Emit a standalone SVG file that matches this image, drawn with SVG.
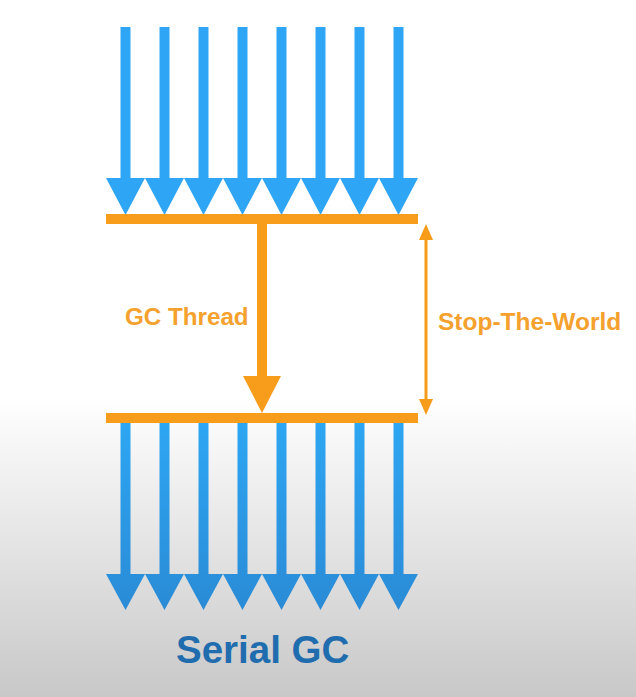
<svg xmlns="http://www.w3.org/2000/svg" xmlns:xlink="http://www.w3.org/1999/xlink" width="636" height="697" viewBox="0 0 636 697">
  <defs>
    <linearGradient id="bg" x1="0" y1="0" x2="0" y2="697" gradientUnits="userSpaceOnUse">
      <stop offset="0" stop-color="#ffffff"/>
      <stop offset="0.57" stop-color="#ffffff"/>
      <stop offset="1" stop-color="#c8c8c8"/>
    </linearGradient>
    <linearGradient id="blueBottom" x1="0" y1="423" x2="0" y2="610" gradientUnits="userSpaceOnUse">
      <stop offset="0" stop-color="#2ea6f3"/>
      <stop offset="1" stop-color="#2a8bd6"/>
    </linearGradient>
    <path id="topArrow" d="M -5 27 H 5 V 178 H 19.5 L 0 215 L -19.5 178 H -5 Z"/>
    <path id="bottomArrow" d="M -5 423 H 5 V 574 H 19.5 L 0 610 L -19.5 574 H -5 Z"/>
  </defs>
  <style>
    .blue-top { fill: #2ea6f5; }
    .blue-bottom { fill: url(#blueBottom); }
    .bar { fill: #f89c1c; }
    .orange { fill: #f89c1c; }
    .label { font-family: "Liberation Sans", Arial, sans-serif; font-weight: 700; fill: #f5a12e; }
    .title { font-family: "Liberation Sans", Arial, sans-serif; font-weight: 700; fill: #1f6dae; font-size: 38.5px; }
  </style>

  <rect x="0" y="0" width="636" height="697" fill="url(#bg)"/>

  <g id="app-threads-before">
    <use href="#topArrow" x="125.5" class="blue-top"/>
    <use href="#topArrow" x="164.5" class="blue-top"/>
    <use href="#topArrow" x="203.5" class="blue-top"/>
    <use href="#topArrow" x="242.5" class="blue-top"/>
    <use href="#topArrow" x="281.5" class="blue-top"/>
    <use href="#topArrow" x="320.5" class="blue-top"/>
    <use href="#topArrow" x="359.5" class="blue-top"/>
    <use href="#topArrow" x="398.5" class="blue-top"/>
  </g>

  <g id="pause-start">
    <rect class="bar" x="106" y="214" width="312" height="10"/>
  </g>

  <g id="pause-end">
    <rect class="bar" x="106" y="413" width="312" height="10"/>
  </g>

  <g id="app-threads-after">
    <use href="#bottomArrow" x="125.5" class="blue-bottom"/>
    <use href="#bottomArrow" x="164.5" class="blue-bottom"/>
    <use href="#bottomArrow" x="203.5" class="blue-bottom"/>
    <use href="#bottomArrow" x="242.5" class="blue-bottom"/>
    <use href="#bottomArrow" x="281.5" class="blue-bottom"/>
    <use href="#bottomArrow" x="320.5" class="blue-bottom"/>
    <use href="#bottomArrow" x="359.5" class="blue-bottom"/>
    <use href="#bottomArrow" x="398.5" class="blue-bottom"/>
  </g>

  <g id="connectors">
    <g id="gc-thread">
      <path class="orange" d="M 257 224 H 267 V 376 H 281 L 262 413 L 243 376 H 257 Z"/>
    </g>
    <g id="stop-the-world">
      <rect class="orange" x="424.5" y="236" width="3" height="166"/>
      <polygon class="orange" points="426,224 419,240 433,240"/>
      <polygon class="orange" points="426,415 419,399 433,399"/>
    </g>
  </g>

  <g id="labels">
    <text class="label" x="125" y="325" font-size="24.2">GC Thread</text>
    <text class="label" x="438" y="330" font-size="24.5">Stop-The-World</text>
  </g>

  <g id="title">
    <text class="title" x="176" y="663">Serial GC</text>
  </g>
</svg>
